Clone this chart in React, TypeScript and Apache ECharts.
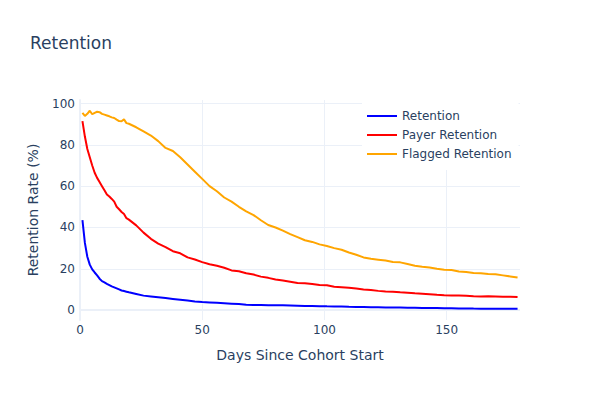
import { useEffect, useRef } from "react";
import * as echarts from "echarts";

// sampled days: daily for the first 20 days, then every 3 days
const days = [
  1, 2, 3, 4, 5, 6, 7, 8, 9, 10, 11, 12, 13, 14, 15, 16, 17, 18, 19, 20,
  23, 26, 29, 32, 35, 38, 41, 44, 47, 50,
  53, 56, 59, 62, 65, 68, 71, 74, 77, 80,
  83, 86, 89, 92, 95, 98, 101, 104, 107, 110,
  113, 116, 119, 122, 125, 128, 131, 134, 137, 140,
  143, 146, 149, 152, 155, 158, 161, 164, 167, 170,
  173, 176, 179,
];

const retention = [
  43.5, 32.5, 25.8, 22, 19.7, 18.2, 16.8, 15.2, 14, 13.4, 12.7, 12.1, 11.5, 11, 10.5, 10, 9.5, 9.2, 8.9, 8.6,
  7.8, 7.0, 6.6, 6.2, 5.8, 5.4, 5.0, 4.6, 4.2, 3.9,
  3.7, 3.5, 3.3, 3.1, 2.9, 2.6, 2.5, 2.45, 2.4, 2.35,
  2.3, 2.2, 2.1, 2.0, 1.95, 1.9, 1.8, 1.75, 1.7, 1.6,
  1.55, 1.5, 1.4, 1.35, 1.3, 1.25, 1.2, 1.15, 1.1, 1.05,
  1.0, 0.95, 0.9, 0.85, 0.8, 0.75, 0.72, 0.7, 0.67, 0.65,
  0.62, 0.6, 0.6,
];

const payerRetention = [
  91.5, 84, 78, 74, 70, 66.5, 64, 62, 60, 58, 56, 55, 53.8, 52.5, 50, 48.8, 47.5, 46.5, 44.5, 43.8,
  41, 37.5, 34.5, 32.2, 30.5, 28.5, 27.5, 25.5, 24.5, 23.2,
  22.2, 21.5, 20.5, 19.2, 18.8, 17.8, 17.2, 16.2, 15.6, 14.8,
  14.3, 13.7, 13.1, 13.0, 12.6, 12.1, 12.0, 11.3, 11.1, 10.8,
  10.4, 10.0, 9.7, 9.3, 9.0, 8.9, 8.6, 8.4, 8.1, 7.9,
  7.7, 7.4, 7.2, 7.1, 7.0, 6.9, 6.7, 6.6, 6.7, 6.6,
  6.5, 6.4, 6.3,
];

const flaggedRetention = [
  95.5, 94, 95, 96.5, 94.8, 95.5, 96, 95.8, 95, 94.6, 94.2, 93.8, 93.3, 93, 92.2, 91.5, 91.4, 92.3, 90.5, 90.2,
  88.5, 86.5, 84.5, 81.8, 78.5, 77, 74, 70.5, 67, 63.5,
  60, 57.5, 54.5, 52.5, 50, 47.8, 46, 43.5, 41.2, 40,
  38.5, 36.8, 35.3, 33.8, 33, 31.8, 31, 30, 29.2, 27.9,
  26.8, 25.5, 24.8, 24.4, 24, 23.3, 23.1, 22.3, 21.5, 21.0,
  20.6, 20, 19.5, 19.4, 18.7, 18.4, 18.0, 17.8, 17.5, 17.3,
  16.8, 16.3, 15.8,
];

const xTicks = [0, 50, 100, 150];
const yTicks = [0, 20, 40, 60, 80, 100];

const textColor = "#2a3f5f";
const gridColor = "#EBF0F8";
const font = "'DejaVu Sans', Verdana, sans-serif";

const pairs = (vals: number[]) => days.map((d, i) => [d, vals[i]]);

export default function App() {
  const ref = useRef<HTMLDivElement>(null);

  useEffect(() => {
    document.body.style.margin = "0";
    if (!ref.current) return;
    const chart = echarts.init(ref.current, null, { renderer: "svg" });

    chart.setOption({
      animation: false,
      backgroundColor: "#fff",
      textStyle: { fontFamily: font },
      title: {
        text: "Retention",
        left: 30,
        top: 34,
        padding: 0,
        textStyle: { color: textColor, fontSize: 17, fontWeight: "normal", fontFamily: font },
      },
      legend: {
        orient: "vertical",
        left: 362,
        top: 100,
        padding: [9, 7, 9, 5],
        itemGap: 5,
        itemWidth: 30,
        itemHeight: 2,
        icon: "rect",
        backgroundColor: "#fff",
        textStyle: { color: textColor, fontSize: 12, fontFamily: font, lineHeight: 14 },
        data: ["Retention", "Payer Retention", "Flagged Retention"],
      },
      grid: { left: 80, right: 80, top: 100, bottom: 80 },
      xAxis: {
        type: "value",
        min: 0,
        max: 180,
        name: "Days Since Cohort Start",
        nameLocation: "middle",
        nameGap: 28,
        nameTextStyle: { color: textColor, fontSize: 14, fontFamily: font },
        axisLine: { show: false, onZero: false },
        axisTick: { show: false, customValues: xTicks },
        axisLabel: { color: textColor, fontSize: 12, margin: 4, fontFamily: font, customValues: xTicks },
        splitLine: { show: true, lineStyle: { color: gridColor, width: 1 } },
      },
      yAxis: {
        type: "value",
        min: -4.8,
        max: 101.7,
        name: "Retention Rate (%)",
        nameLocation: "middle",
        nameGap: 40,
        nameTextStyle: { color: textColor, fontSize: 14, fontFamily: font },
        axisLine: { show: true, onZero: false, lineStyle: { color: gridColor, width: 2 } },
        axisTick: { show: false, customValues: yTicks },
        axisLabel: { color: textColor, fontSize: 12, margin: 5, fontFamily: font, customValues: yTicks },
        splitLine: { show: true, lineStyle: { color: gridColor, width: 1 } },
      },
      series: [
        {
          name: "Retention",
          type: "line",
          data: pairs(retention),
          showSymbol: false,
          lineStyle: { color: "#0000ff", width: 2 },
          itemStyle: { color: "#0000ff" },
          // zero line, drawn under the traces
          markLine: {
            z: 1,
            silent: true,
            symbol: "none",
            label: { show: false },
            lineStyle: { color: gridColor, width: 2, type: "solid" },
            data: [{ yAxis: 0 }],
          },
        },
        {
          name: "Payer Retention",
          type: "line",
          data: pairs(payerRetention),
          showSymbol: false,
          lineStyle: { color: "#ff0000", width: 2 },
          itemStyle: { color: "#ff0000" },
        },
        {
          name: "Flagged Retention",
          type: "line",
          data: pairs(flaggedRetention),
          showSymbol: false,
          lineStyle: { color: "#ffa500", width: 2 },
          itemStyle: { color: "#ffa500" },
        },
      ],
    });

    return () => chart.dispose();
  }, []);

  return <div ref={ref} style={{ width: 600, height: 400 }} />;
}
